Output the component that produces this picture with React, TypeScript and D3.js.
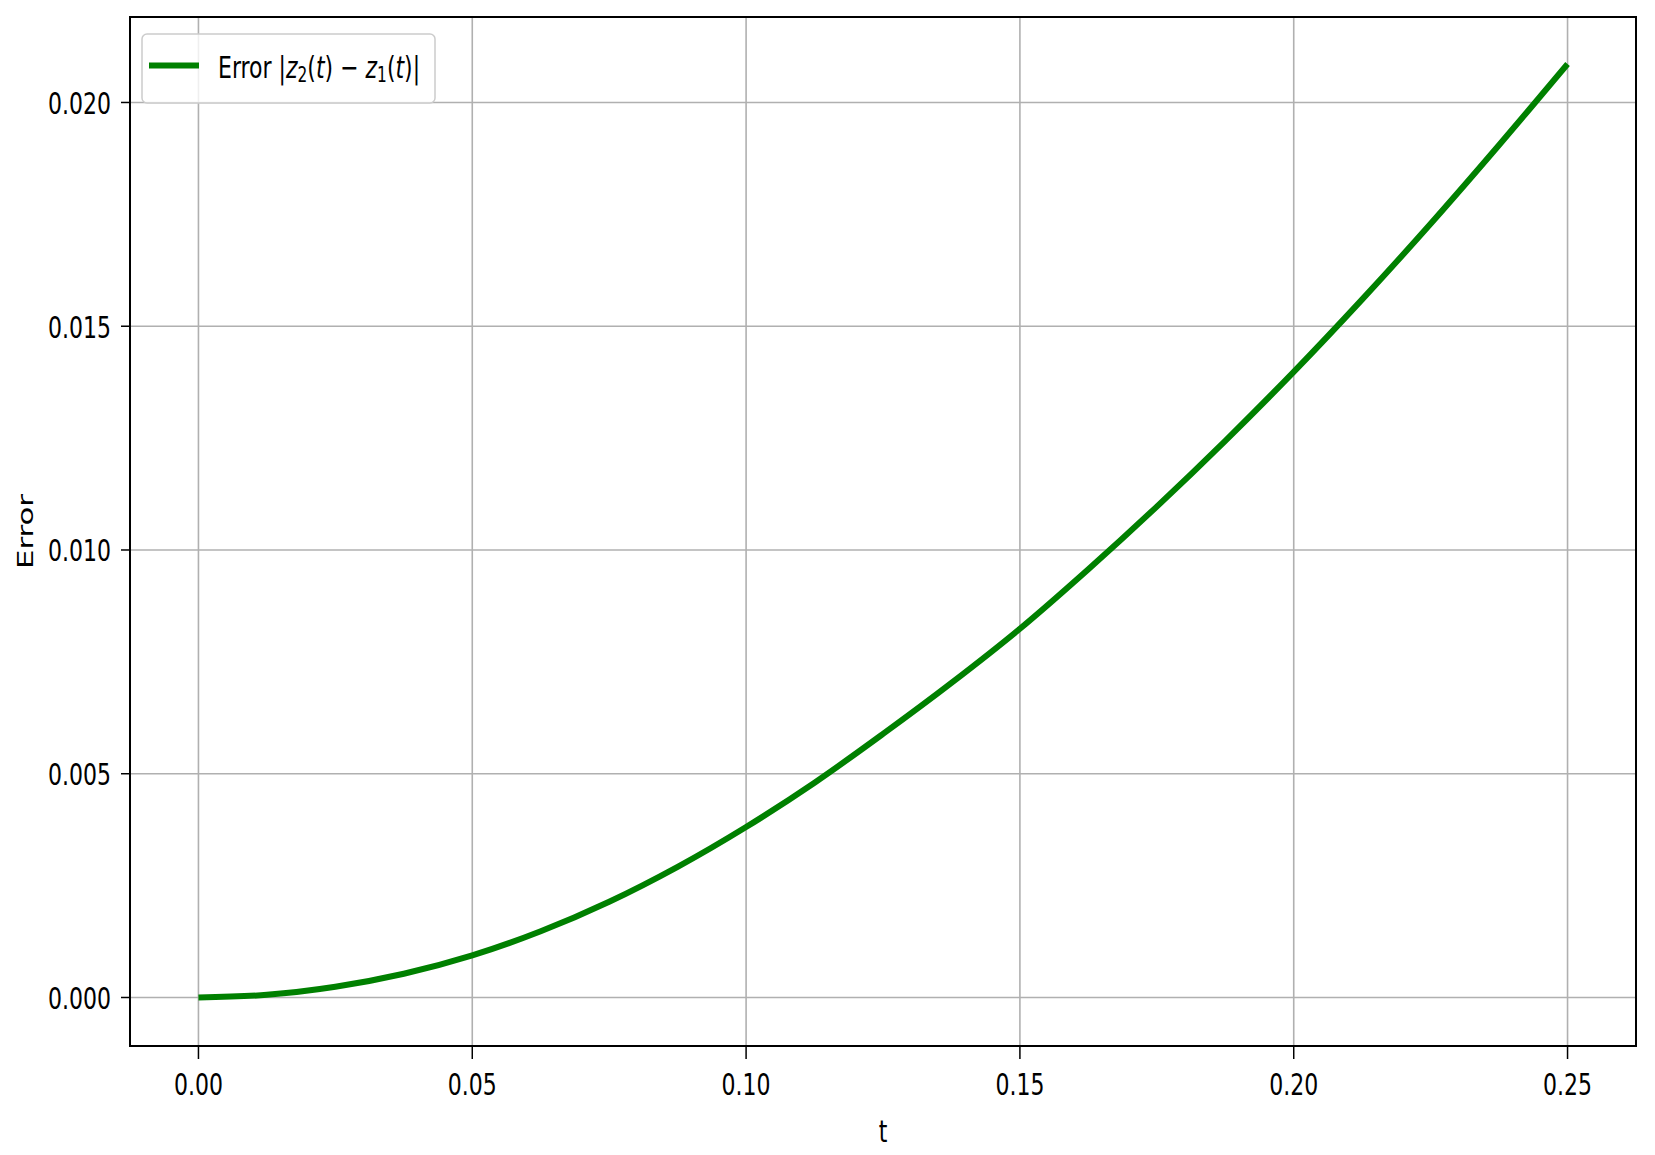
import React from "react";
import * as d3 from "d3";

const tValues = [0, 0.0125, 0.025, 0.0375, 0.05, 0.0625, 0.075, 0.0875, 0.1, 0.1125, 0.125, 0.1375, 0.15, 0.1625, 0.175, 0.1875, 0.2, 0.2125, 0.225, 0.2375, 0.25];
const errorValues = [0, 0.00006, 0.00024, 0.00053, 0.00094, 0.00148, 0.00214, 0.00292, 0.00381, 0.0048, 0.00589, 0.00703, 0.00824, 0.00957, 0.01097, 0.01244, 0.01398, 0.0156, 0.01729, 0.01905, 0.02086];
const xTicks = [0, 0.05, 0.1, 0.15, 0.2, 0.25];
const yTicks = [0, 0.005, 0.01, 0.015, 0.02];

const W = 1655, H = 1155;
const L = 130, R = 1636, T = 17, B = 1046;
const FS = 22;
const VS = 1.4;
const FONT = "DejaVu Sans";
const GREEN = "#008000";

export default function App() {
  const x = d3.scaleLinear().domain([-0.0125, 0.2625]).range([L, R]);
  const y = d3.scaleLinear().domain([-0.001084, 0.02191]).range([B, T]);
  const data = tValues.map((t, i) => [t, errorValues[i]] as [number, number]);
  const line = d3.line<[number, number]>().x(d => x(d[0])).y(d => y(d[1])).curve(d3.curveCatmullRom.alpha(0.5));

  return (
    <svg width={W} height={H} style={{ position: "absolute", left: 0, top: 0, background: "#fff" }} fontFamily={FONT}>
      <rect x={0} y={0} width={W} height={H} fill="#fff" />
      {/* grid */}
      {xTicks.map(t => (
        <line key={"gx" + t} x1={x(t)} x2={x(t)} y1={T} y2={B} stroke="#b0b0b0" strokeWidth={1.6} />
      ))}
      {yTicks.map(v => (
        <line key={"gy" + v} x1={L} x2={R} y1={y(v)} y2={y(v)} stroke="#b0b0b0" strokeWidth={1.6} />
      ))}
      {/* curve */}
      <path d={line(data) || ""} fill="none" stroke={GREEN} strokeWidth={6} strokeLinecap="butt" />
      {/* spines */}
      <rect x={L} y={T} width={R - L} height={B - T} fill="none" stroke="#000" strokeWidth={2} />
      {/* x ticks */}
      {xTicks.map(t => (
        <g key={"xt" + t}>
          <line x1={x(t)} x2={x(t)} y1={B} y2={B + 13} stroke="#000" strokeWidth={1.5} />
          <g transform={`translate(${x(t)},${B + 49}) scale(1,${VS})`}>
            <text x={0} y={0} fontSize={FS} textAnchor="middle" fill="#000">{t.toFixed(2)}</text>
          </g>
        </g>
      ))}
      {/* y ticks */}
      {yTicks.map(v => (
        <g key={"yt" + v}>
          <line x1={L - 9} x2={L} y1={y(v)} y2={y(v)} stroke="#000" strokeWidth={1.5} />
          <g transform={`translate(${L - 19},${y(v) + 11.5}) scale(1,${VS})`}>
            <text x={0} y={0} fontSize={FS} textAnchor="end" fill="#000">{v.toFixed(3)}</text>
          </g>
        </g>
      ))}
      {/* axis labels */}
      <g transform={`translate(${(L + R) / 2},${1142}) scale(1,${VS})`}>
        <text x={0} y={0} fontSize={FS} textAnchor="middle" fill="#000">t</text>
      </g>
      <g transform={`translate(33,${(T + B) / 2}) rotate(-90) scale(${VS},1)`}>
        <text x={0} y={0} fontSize={FS} textAnchor="middle" fill="#000">Error</text>
      </g>
      {/* legend */}
      <rect x={142} y={34} width={293} height={69} rx={5} ry={5} fill="#fff" fillOpacity={0.8} stroke="#cccccc" strokeWidth={1.5} />
      <line x1={149} x2={199} y1={65.5} y2={65.5} stroke={GREEN} strokeWidth={6} />
      <g transform={`translate(218,78) scale(1,${VS})`}>
        <text x={0} y={0} fontSize={FS} fill="#000">
          <tspan>Error </tspan>
          <tspan>|</tspan>
          <tspan fontStyle="italic">z</tspan>
          <tspan fontSize={FS * 0.7} dy={3}>2</tspan>
          <tspan dy={-3}>(</tspan>
          <tspan fontStyle="italic">t</tspan>
          <tspan>) − </tspan>
          <tspan fontStyle="italic">z</tspan>
          <tspan fontSize={FS * 0.7} dy={3}>1</tspan>
          <tspan dy={-3}>(</tspan>
          <tspan fontStyle="italic">t</tspan>
          <tspan>)|</tspan>
        </text>
      </g>
    </svg>
  );
}
